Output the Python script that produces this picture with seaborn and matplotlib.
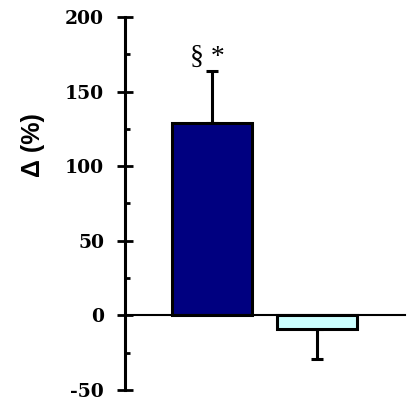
import matplotlib
matplotlib.use("Agg")
import matplotlib.pyplot as plt
import seaborn as sns
import pandas as pd
from matplotlib.ticker import MultipleLocator

# Mean change and one-sided SEM for the two groups
groups = ["A", "B"]
delta = [129, -9]
sem = [35, 20]
colors = ["#000080", "#CCFFFF"]
annotation = "§ *"
y_ticks = [-50, 0, 50, 100, 150, 200]

sns.set_style("white")
plt.rcParams["font.family"] = ["Liberation Serif", "DejaVu Serif"]
plt.rcParams["text.color"] = "black"
plt.rcParams["ytick.color"] = "black"
plt.rcParams["ytick.labelcolor"] = "black"

df = pd.DataFrame({"group": groups, "delta": delta})

fig = plt.figure(figsize=(4.08, 4.01), dpi=100)
ax = fig.add_axes([125 / 408, 1 - 390 / 401, 280 / 408, 373 / 401])

sns.barplot(data=df, x="group", y="delta", hue="group", palette=colors,
            saturation=1, width=0.76, edgecolor="black", linewidth=2.2,
            legend=False, errorbar=None, ax=ax, zorder=3)

# one-sided error bars pointing away from zero
for i, (v, e) in enumerate(zip(delta, sem)):
    lower = [0] if v >= 0 else [e]
    upper = [e] if v >= 0 else [0]
    ax.errorbar(i, v, yerr=[lower, upper], fmt="none", ecolor="black",
                elinewidth=2.2, capsize=4.5, capthick=2.2, zorder=2)

ax.text(-0.04, delta[0] + sem[0] + 0.5, annotation, ha="center", va="bottom",
        fontsize=20, color="black",
        family=["Liberation Serif", "DejaVu Serif"])

ax.set_xlim(-0.829, 1.838)
ax.set_ylim(-50, 200)
ax.set_yticks(y_ticks)
ax.yaxis.set_minor_locator(MultipleLocator(25))
ax.set_yticklabels([str(t) for t in y_ticks], fontweight="bold", fontsize=13.5,
                   family=["DejaVu Serif"], color="black")
ax.tick_params(axis="y", which="both", left=True, color="black")
ax.tick_params(axis="y", which="major", direction="inout", length=12,
               width=2, pad=9)
ax.tick_params(axis="y", which="minor", direction="in", length=3.5, width=2)
ax.set_xticks([])
ax.set_xlabel("")
ax.set_ylabel("")

for side in ["top", "right"]:
    ax.spines[side].set_visible(False)
ax.spines["left"].set_linewidth(2.2)
ax.spines["left"].set_color("black")
ax.spines["bottom"].set_position(("data", 0))
ax.spines["bottom"].set_linewidth(1.5)
ax.spines["bottom"].set_color("black")
ax.spines["bottom"].set_zorder(4)

fig.text(33 / 408, 1 - 145 / 401, "Δ (%)", rotation=90, ha="center",
         va="center", fontsize=18, fontweight="bold", color="black",
         family=["Liberation Sans", "DejaVu Sans"])

fig.savefig("out.png", dpi=100)
